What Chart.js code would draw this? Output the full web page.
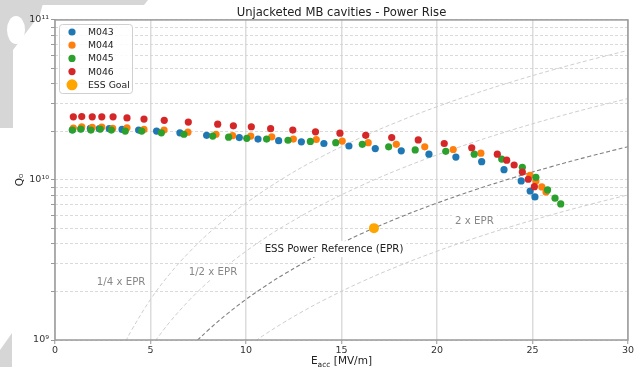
<!DOCTYPE html>
<html><head><meta charset="utf-8">
<script src="https://cdn.jsdelivr.net/npm/chart.js@4.4.1/dist/chart.umd.min.js"></script>
<style>html,body{margin:0;padding:0;background:#fff;}#wrap{width:635px;height:367px;position:relative}</style>
</head><body><div id="wrap"><canvas id="c" width="635" height="367"></canvas></div>
<script>
// ---- data ----
const seriesNames = ['M043', 'M044', 'M045', 'M046', 'ESS Goal'];
const m043E = [0.91,1.36,1.85,2.32,2.84,3.51,4.38,5.32,6.54,7.94,9.65,10.63,11.71,12.90,14.08,15.39,16.77,18.13,19.58,20.99,22.34,23.51,24.41,24.88,25.13];
const m043Q = [2.06e10,2.09e10,2.10e10,2.09e10,2.09e10,2.07e10,2.05e10,2.02e10,1.97e10,1.90e10,1.84e10,1.80e10,1.76e10,1.73e10,1.69e10,1.63e10,1.57e10,1.52e10,1.45e10,1.39e10,1.30e10,1.16e10,9.86e9,8.53e9,7.83e9];
const m044E = [0.96,1.40,1.95,2.45,3.02,3.77,4.66,5.71,6.96,8.43,9.30,10.25,11.35,12.48,13.68,15.04,16.40,17.87,19.36,20.85,22.30,24.87,25.18,25.49,25.71];
const m044Q = [2.11e10,2.15e10,2.13e10,2.14e10,2.10e10,2.12e10,2.07e10,2.05e10,1.99e10,1.93e10,1.89e10,1.88e10,1.86e10,1.80e10,1.79e10,1.75e10,1.71e10,1.67e10,1.61e10,1.55e10,1.47e10,1.07e10,9.86e9,9.04e9,8.41e9];
const m045E = [0.91,1.35,1.88,2.37,2.95,3.68,4.54,5.57,6.75,8.26,9.09,10.04,11.08,12.20,13.37,14.70,16.09,17.47,18.86,20.46,21.95,23.39,24.47,25.18,25.79,26.18,26.48];
const m045Q = [2.05e10,2.08e10,2.05e10,2.08e10,2.05e10,2.02e10,2.02e10,1.97e10,1.93e10,1.88e10,1.85e10,1.82e10,1.80e10,1.77e10,1.74e10,1.71e10,1.67e10,1.61e10,1.54e10,1.51e10,1.45e10,1.35e10,1.20e10,1.04e10,8.66e9,7.69e9,7.08e9];
const m046E = [0.96,1.40,1.95,2.45,3.04,3.77,4.66,5.72,6.98,8.52,9.34,10.28,11.29,12.45,13.64,14.92,16.27,17.63,19.02,20.38,21.82,23.16,23.65,24.04,24.47,24.78,25.10];
const m046Q = [2.48e10,2.49e10,2.48e10,2.48e10,2.48e10,2.44e10,2.40e10,2.36e10,2.30e10,2.23e10,2.18e10,2.15e10,2.09e10,2.05e10,2.00e10,1.96e10,1.90e10,1.84e10,1.78e10,1.69e10,1.59e10,1.45e10,1.33e10,1.24e10,1.12e10,1.01e10,9.08e9];
const goalE = [16.7];
const goalQ = [5.0e9];

// reference power curves
const quarterE = [3.7,4,5,6,7,8,9,10,12,14,16,18,20,22,24,26,28,30];
const quarterQ = [9.82e8,1.147e9,1.793e9,2.58e9,3.51e9,4.59e9,5.81e9,7.17e9,1.033e10,1.405e10,1.836e10,2.323e10,2.868e10,3.47e10,4.13e10,4.85e10,5.62e10,6.45e10];
const halfE = [5.25,6,7,8,9,10,11,12,14,16,18,20,22,24,26,28,30];
const halfQ = [9.88e8,1.291e9,1.757e9,2.295e9,2.904e9,3.586e9,4.338e9,5.163e9,7.028e9,9.179e9,1.162e10,1.434e10,1.735e10,2.065e10,2.424e10,2.811e10,3.227e10];
const essE = [7.45,8,9,10,11,12,14,16,18,20,22,24,26,28,30];
const essQ = [9.95e8,1.147e9,1.452e9,1.793e9,2.169e9,2.582e9,3.514e9,4.590e9,5.809e9,7.171e9,8.677e9,1.033e10,1.212e10,1.406e10,1.614e10];
const doubleE = [10.5,11,12,13,14,16,18,20,22,24,26,28,30];
const doubleQ = [9.88e8,1.085e9,1.291e9,1.515e9,1.757e9,2.295e9,2.904e9,3.586e9,4.338e9,5.163e9,6.060e9,7.028e9,8.068e9];

const xTicks = [0,5,10,15,20,25,30];
const yTicks = [1e9,2e9,3e9,4e9,5e9,6e9,7e9,8e9,9e9,1e10,2e10,3e10,4e10,5e10,6e10,7e10,8e10,9e10,1e11];
const yTickLabels = {1e9:'10⁹', 1e10:'10¹⁰', 1e11:'10¹¹'};

const FONT = "'DejaVu Sans', sans-serif";
const pts = (xs, ys) => xs.map((x, i) => ({x, y: ys[i]}));

const colors = ['#1f77b4', '#ff7f0e', '#2ca02c', '#d62728', '#ffa500'];

function lineDs(xs, ys, color, width) {
  return {type:'line', data: pts(xs, ys), borderColor: color, borderWidth: width, borderDash:[4,2.5],
    pointRadius:0, fill:false, tension:0.4, order: 20, label:'_'};
}
function dotDs(i, xs, ys, r, order) {
  return {type:'scatter', label: seriesNames[i], data: pts(xs, ys), backgroundColor: colors[i],
    borderWidth:0, pointRadius:r, pointHoverRadius:r, order};
}

const annotations = [
  {text:'ESS Power Reference (EPR)', x:14.61, y:3.70e9, color:'#222', box:true},
  {text:'2 x EPR', x:21.96, y:5.5e9, color:'#888', box:true},
  {text:'1/4 x EPR', x:3.46, y:2.28e9, color:'#888', box:true},
  {text:'1/2 x EPR', x:8.27, y:2.65e9, color:'#888', box:true}
];

const deco = {
  id: 'deco',
  beforeDraw(chart) {
    const ctx = chart.ctx;
    ctx.save();
    ctx.fillStyle = '#fff';
    ctx.fillRect(0, 0, chart.width, chart.height);
    ctx.fillStyle = '#d6d6d6';
    // background shapes (slide decoration)
    ctx.beginPath(); ctx.moveTo(0,0); ctx.lineTo(148,0); ctx.lineTo(144,5); ctx.lineTo(0,5); ctx.fill();
    ctx.beginPath(); ctx.moveTo(0,0); ctx.lineTo(44,0); ctx.lineTo(40,14); ctx.lineTo(13,50); ctx.lineTo(13,128); ctx.lineTo(0,128); ctx.fill();
    ctx.fillStyle = '#fff';
    ctx.beginPath(); ctx.ellipse(16, 30, 9, 14, 0, 0, Math.PI*2); ctx.fill();
    ctx.fillStyle = '#d6d6d6';
    ctx.beginPath(); ctx.moveTo(0,350); ctx.lineTo(12,333); ctx.lineTo(12,367); ctx.lineTo(0,367); ctx.fill();
    ctx.restore();
  },
  afterDatasetsDraw(chart) {
    const ctx = chart.ctx, xs = chart.scales.x, ys = chart.scales.y;
    ctx.save();
    ctx.font = `10.2px ${FONT}`;
    ctx.textAlign = 'center'; ctx.textBaseline = 'middle';
    annotations.forEach(a => {
      const px = xs.getPixelForValue(a.x), py = ys.getPixelForValue(a.y);
      const w = ctx.measureText(a.text).width;
      if (a.box) { ctx.fillStyle = '#fff'; ctx.fillRect(px - w/2 - 3, py - 8, w + 6, 16); }
      ctx.fillStyle = a.color;
      ctx.fillText(a.text, px, py);
    });
    ctx.restore();
  },
  afterDraw(chart) {
    const ctx = chart.ctx, ca = chart.chartArea;
    ctx.save();
    // frame
    ctx.strokeStyle = '#999'; ctx.lineWidth = 1.5;
    ctx.strokeRect(ca.left, ca.top, ca.right - ca.left, ca.bottom - ca.top);
    // legend
    const lx = 59, ly = 24, lw = 73, lh = 69;
    ctx.fillStyle = 'rgba(255,255,255,0.85)';
    ctx.strokeStyle = '#d0d0d0'; ctx.lineWidth = 1;
    ctx.beginPath(); ctx.roundRect(lx + 0.5, ly + 0.5, lw, lh, 3); ctx.fill(); ctx.stroke();
    ctx.font = `9.3px ${FONT}`; ctx.textAlign = 'left'; ctx.textBaseline = 'middle';
    const legendItems = chart.data.datasets.filter(d => d.label !== '_');
    legendItems.forEach((d, i) => {
      const cy = 32 + i * 13.2;
      ctx.fillStyle = d.backgroundColor;
      ctx.beginPath(); ctx.arc(72, cy, d.pointRadius + (i === 4 ? 0.5 : 0), 0, Math.PI * 2); ctx.fill();
      ctx.fillStyle = '#222';
      ctx.fillText(d.label, 88, cy + 0.5);
    });
    // x axis title with subscript
    const cx = (ca.left + ca.right) / 2, by = 364;
    ctx.fillStyle = '#222';
    ctx.font = `10.5px ${FONT}`;
    const wE = ctx.measureText('E').width, wR = ctx.measureText(' [MV/m]').width;
    ctx.font = `7.5px ${FONT}`;
    const wS = ctx.measureText('acc').width;
    let x0 = cx - (wE + wS + wR) / 2;
    ctx.textBaseline = 'alphabetic';
    ctx.font = `10.5px ${FONT}`; ctx.fillText('E', x0, by);
    ctx.font = `7.5px ${FONT}`; ctx.fillText('acc', x0 + wE, by + 2.5);
    ctx.font = `10.5px ${FONT}`; ctx.fillText(' [MV/m]', x0 + wE + wS, by);
    ctx.restore();
  }
};

new Chart(document.getElementById('c'), {
  data: {
    datasets: [
      dotDs(0, m043E, m043Q, 3.6, 6),
      dotDs(1, m044E, m044Q, 3.6, 5),
      dotDs(2, m045E, m045Q, 3.6, 4),
      dotDs(3, m046E, m046Q, 3.6, 3),
      dotDs(4, goalE, goalQ, 5, 1),
      lineDs(quarterE, quarterQ, '#cfcfcf', 1),
      lineDs(halfE, halfQ, '#cfcfcf', 1),
      lineDs(essE, essQ, '#808080', 1.1),
      lineDs(doubleE, doubleQ, '#cfcfcf', 1)
    ]
  },
  options: {
    responsive: false, animation: false, devicePixelRatio: 1,
    layout: { padding: { left: 0, right: 7, top: 0, bottom: 0 } },
    plugins: {
      legend: { display: false },
      tooltip: { enabled: false },
      title: { display: true, fullSize: false, text: 'Unjacketed MB cavities - Power Rise', color: '#222',
        font: { family: FONT, size: 11.6, weight: 'normal' }, padding: { top: 6, bottom: 0 } }
    },
    scales: {
      x: {
        type: 'linear', min: 0, max: 30,
        afterBuildTicks: s => { s.ticks = xTicks.map(v => ({value: v})); },
        afterFit: s => { s.height = 27; },
        ticks: { color: '#333', font: { family: FONT, size: 9.5 }, padding: 1, maxRotation: 0 },
        grid: { color: '#dcdcdc', lineWidth: 1.5, tickLength: 4, tickColor: '#999', tickWidth: 1 },
        border: { display: false }
      },
      y: {
        type: 'logarithmic', min: 1e9, max: 1e11,
        afterBuildTicks: s => { s.ticks = yTicks.map(v => ({value: v})); },
        afterFit: s => { s.width = 55; },
        ticks: { color: '#333', font: { family: FONT, size: 9.5 }, padding: 2, autoSkip: false,
          callback: v => yTickLabels[v] || '' },
        grid: { color: '#d0d0d0', lineWidth: 0.8, tickLength: 4, tickColor: '#999', tickWidth: 1 },
        border: { display: false, dash: [3, 2] },
        title: { display: true, text: 'Q₀', color: '#222', font: { family: FONT, size: 10.5 }, padding: { top: 14, bottom: 0 } }
      }
    }
  },
  plugins: [deco]
});
</script></body></html>
